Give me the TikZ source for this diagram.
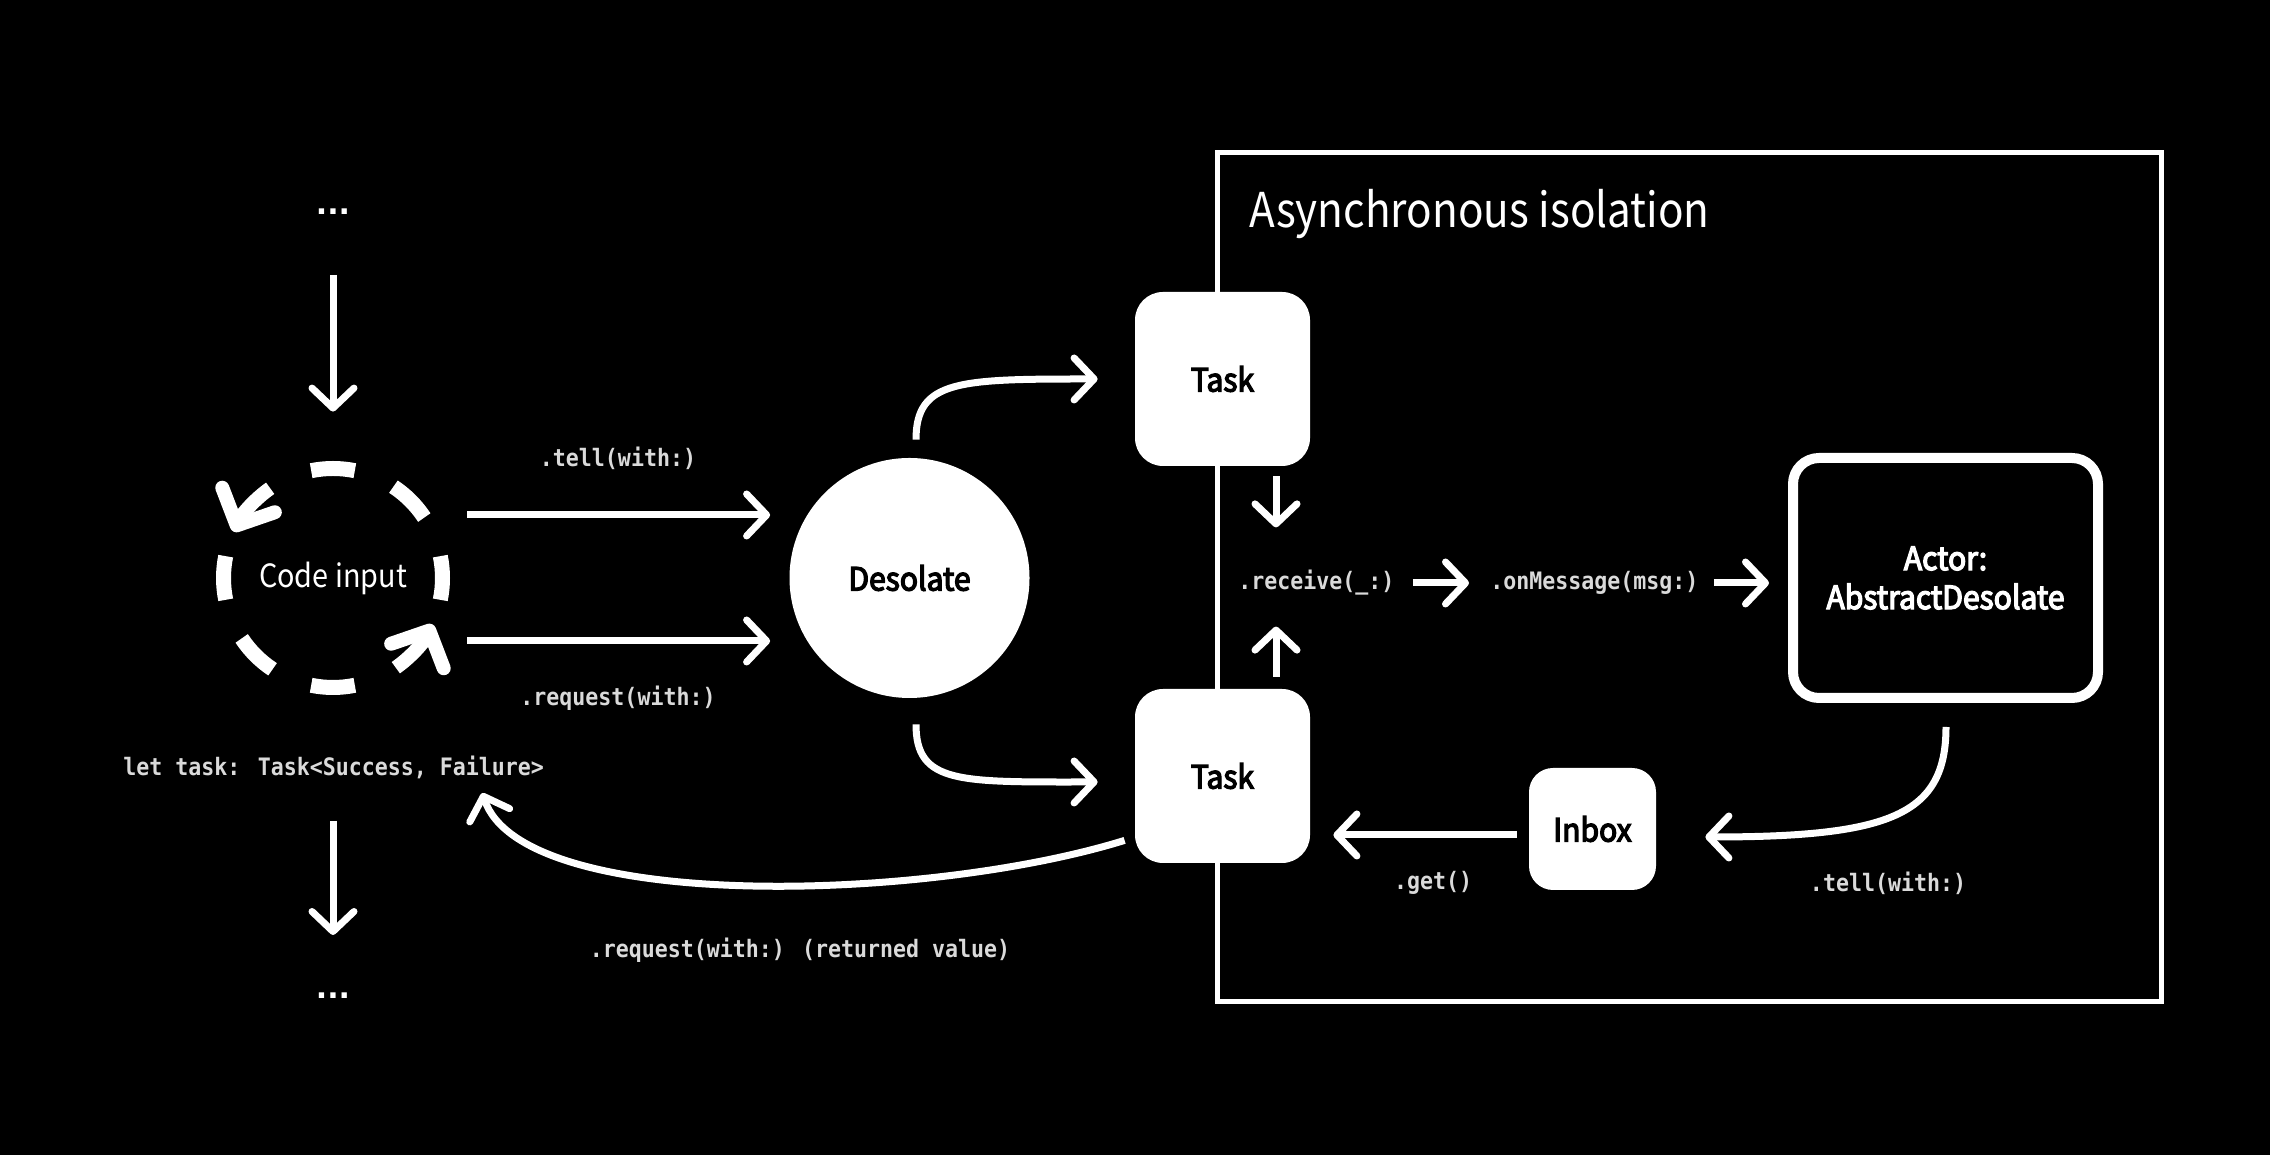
\documentclass[tikz,border=0pt]{standalone}
\usepackage{fontspec}
\setmainfont{Noto Sans CJK KR}[FakeStretch=0.9]
\newfontfamily\medf{Noto Sans CJK KR}[FakeStretch=0.94, FakeBold=4]
\newfontfamily\titlef{Noto Sans CJK KR}[FakeStretch=0.88]
\newfontfamily\monof{DejaVu Sans Mono}[FakeStretch=0.9]
\newfontfamily\dotf{DejaVu Sans}
\usetikzlibrary{arrows.meta,calc}
\definecolor{monogray}{HTML}{DADADA}
\tikzset{
  arr/.style={draw=white, line width=3.5pt, -{Straight Barb[length=10pt,width=21pt,round]}},
  bigarr/.style={draw=white, line width=7pt, -{Straight Barb[length=14pt,width=29pt,round]}},
  dashseg/.style={draw=white, line width=7.5pt},
  monotxt/.style={font=\monof\bfseries\fontsize{12pt}{14pt}\selectfont, text=monogray, inner sep=0pt},
  dotstxt/.style={font=\dotf\bfseries\fontsize{15pt}{16pt}\selectfont, text=white, inner sep=0pt},
  txt/.style={font=\fontsize{16pt}{19.5pt}\selectfont, text=white, inner sep=0pt},
  medtxt/.style={font=\medf\fontsize{16pt}{19.5pt}\selectfont, inner sep=0pt},
  titletxt/.style={font=\titlef\fontsize{24pt}{28pt}\selectfont, text=white, inner sep=0pt},
  whitebox/.style={rectangle, fill=white, rounded corners=14pt, text=black, medtxt},
}
\begin{document}
\begin{tikzpicture}[x=0.5pt,y=0.5pt]
\useasboundingbox (0,0) rectangle (2270,1155);
\fill[black] (0,0) rectangle (2270,1155);

% frame of the asynchronous isolation
\draw[white, line width=2.5pt] (1217.5,153) rectangle (2161.5,1002);
\node[titletxt, anchor=base west] (title) at (1249,927) {Asynchronous isolation};

% code input
\node[circle, minimum size=117pt, txt] (codeIn) at (333,577) {Code input};
\foreach \a [evaluate=\a as \s using \a-11.5, evaluate=\a as \e using \a+11.5] in {0,45,90,180,225,270}
  \draw[dashseg] ($(codeIn.center)+(\s:54.75pt)$) arc[start angle=\s, end angle=\e, radius=54.75pt];
\draw[bigarr] ($(codeIn.center)+(125:54.75pt)$) arc[start angle=125, end angle=155, radius=54.75pt];
\draw[bigarr] ($(codeIn.center)+(305:54.75pt)$) arc[start angle=305, end angle=335, radius=54.75pt];

\node[dotstxt] (dotsTop) at (333,943) {...};
\draw[arr] ($(dotsTop.center)+(0,-63)$) -- ($(codeIn.north)+(0,49)$);

\node[monotxt, anchor=west] (lettask) at (123,388) {let task: Task<Success, Failure>};
\node[dotstxt] (dotsBot) at (333,159) {...};
\draw[arr] ($(codeIn.center |- lettask.south)+(0,-42)$) -- ($(dotsBot.center)+(0,61)$);

% desolate
\node[circle, fill=white, minimum size=120pt, medtxt, text=black] (deso) at (909.5,577) {Desolate};
\draw[arr] ($(codeIn.east)+(17,63)$) -- ($(deso.west)+(-19,63)$);
\draw[arr] ($(codeIn.east)+(17,-63)$) -- ($(deso.west)+(-19,-63)$);
\node[monotxt] (tellL) at (618,697) {.tell(with:)};
\node[monotxt] (reqL) at (618,457) {.request(with:)};

% tasks
\node[whitebox, minimum width=87.5pt, minimum height=87pt] (task1) at (1222.5,776) {Task};
\node[whitebox, minimum width=87.5pt, minimum height=87pt] (task2) at (1222.5,379) {Task};
\draw[arr] ($(deso.north)+(6.5,18)$) .. controls +(0,60) and +(-138,0) .. ($(task1.west)+(-37,0)$);
\draw[arr] ($(deso.south)+(6.5,-26)$) .. controls +(0,-60) and +(-138,0) .. ($(task2.west)+(-37,-6)$);

% receive / onMessage
\node[monotxt, anchor=west] (recv) at (1238,572) {.receive(\_:)};
\node[monotxt, anchor=west] (onmsg) at (1490,572) {.onMessage(msg:)};
\draw[arr] ($(task1.south)+(53.5,-10)$) -- ++(0,-51);
\draw[arr] ($(task2.north)+(53.5,12)$) -- ++(0,50);
\draw[arr, shorten <=9pt, shorten >=10.5pt] (recv.east) -- (onmsg.west);

% actor
\node[rectangle, draw=white, line width=5pt, rounded corners=13pt, minimum width=152.5pt, minimum height=120pt, medtxt, text=white, align=center] (actor) at (1945.5,577) {Actor:\\AbstractDesolate};
\draw[arr, shorten <=7.5pt, shorten >=9.5pt] (onmsg.east) -- (actor.west |- onmsg.east);

% inbox
\node[whitebox, minimum width=63.5pt, minimum height=61pt, rounded corners=12pt] (inbox) at (1592.5,326) {Inbox};
\draw[arr] ($(actor.south)+(0.5,-24)$) .. controls +(0,-88) and +(185,0) .. ($(inbox.east)+(49,-8)$);
\node[monotxt] (tell2) at (1888,272) {.tell(with:)};
\draw[arr] ($(inbox.west)+(-12,-6)$) -- ($(task2.east)+(23,-59)$);
\node[monotxt] (getL) at (1433,272) {.get()};

% returned value
\draw[arr] ($(task2.south west)+(-10,23)$) .. controls +(-200,-62) and +(40,-120) .. ($(lettask.east)+(-62,-26)$);
\node[monotxt] (retL) at (800,205) {.request(with:) (returned value)};
\end{tikzpicture}
\end{document}
